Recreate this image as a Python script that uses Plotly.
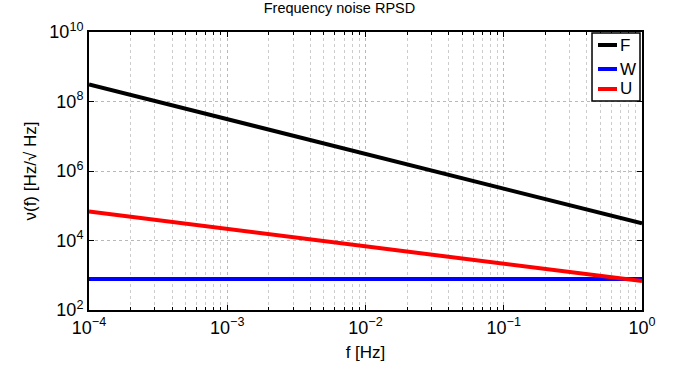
import plotly.graph_objects as go

freq = [1e-4, 1e-3, 1e-2, 1e-1, 1e0]
F_vals = [3.1e8, 3.1e7, 3.1e6, 3.1e5, 3.1e4]
W_vals = [7.8e2, 7.8e2, 7.8e2, 7.8e2, 7.8e2]
U_vals = [6.8e4, 2.15e4, 6.8e3, 2.15e3, 6.8e2]

series_names = ["F", "W", "U"]
series_colors = ["black", "blue", "red"]

x_ticks = [1e-4, 1e-3, 1e-2, 1e-1, 1e0]
x_ticklabels = ["10<sup>−4</sup>", "10<sup>−3</sup>", "10<sup>−2</sup>", "10<sup>−1</sup>", "10<sup>0</sup>"]
y_ticks = [1e2, 1e4, 1e6, 1e8, 1e10]
y_ticklabels = ["10<sup>2</sup>", "10<sup>4</sup>", "10<sup>6</sup>", "10<sup>8</sup>", "10<sup>10</sup>"]

x_minor = [m * 10**e for e in range(-4, 0) for m in range(2, 10)]

fig = go.Figure()
for name, vals, col in zip(series_names, [F_vals, W_vals, U_vals], series_colors):
    fig.add_trace(go.Scatter(x=freq, y=vals, mode="lines", name=name,
                             line=dict(color=col, width=4), showlegend=False))

font_family = "Liberation Sans, Arial, sans-serif"
axis_common = dict(
    showline=True, linecolor="black", linewidth=2, mirror="allticks",
    ticks="inside", ticklen=5, tickcolor="black", tickwidth=1,
    showgrid=True, gridcolor="#b8b8b8", griddash="dot", gridwidth=1,
    zeroline=False, tickfont=dict(family=font_family, size=18, color="black"),
)

fig.update_xaxes(
    type="log", range=[-4, 0], tickmode="array", tickvals=x_ticks, ticktext=x_ticklabels,
    minor=dict(tickmode="array", tickvals=x_minor, ticks="inside", ticklen=3, tickcolor="black",
               showgrid=True, gridcolor="#cccccc", griddash="dot", gridwidth=1),
    title=dict(text="f [Hz]", font=dict(family=font_family, size=17, color="black"), standoff=10),
    **axis_common,
)
fig.update_yaxes(
    type="log", range=[2, 10], tickmode="array", tickvals=y_ticks, ticktext=y_ticklabels,
    title=dict(text="ν(f) [Hz/√ Hz]", font=dict(family=font_family, size=17, color="black"), standoff=8),
    **axis_common,
)

# Compact legend box (MATLAB style), placed in paper coordinates
fig.add_shape(type="rect", xref="paper", yref="paper", x0=0.9096, x1=0.9964, y0=0.7518, y1=0.9964,
              line=dict(color="black", width=1.5), fillcolor="white", layer="above")
legend_y = [0.9532, 0.8669, 0.795]
for name, col, ly in zip(series_names, series_colors, legend_y):
    fig.add_shape(type="line", xref="paper", yref="paper", x0=0.9204, x1=0.9548, y0=ly, y1=ly,
                  line=dict(color=col, width=4), layer="above")
    fig.add_annotation(xref="paper", yref="paper", x=0.9566, y=ly, text=name, showarrow=False,
                       xanchor="left", yanchor="middle",
                       font=dict(family=font_family, size=17, color="black"))

fig.update_layout(
    width=679, height=378,
    margin=dict(l=89, r=37, t=32, b=68),
    paper_bgcolor="white", plot_bgcolor="white",
    title=dict(text="Frequency noise RPSD", x=0.5, xanchor="center", y=0.993, yanchor="top",
               font=dict(family=font_family, size=14.5, color="black")),
    showlegend=False,
)

fig.write_html("out.html")
